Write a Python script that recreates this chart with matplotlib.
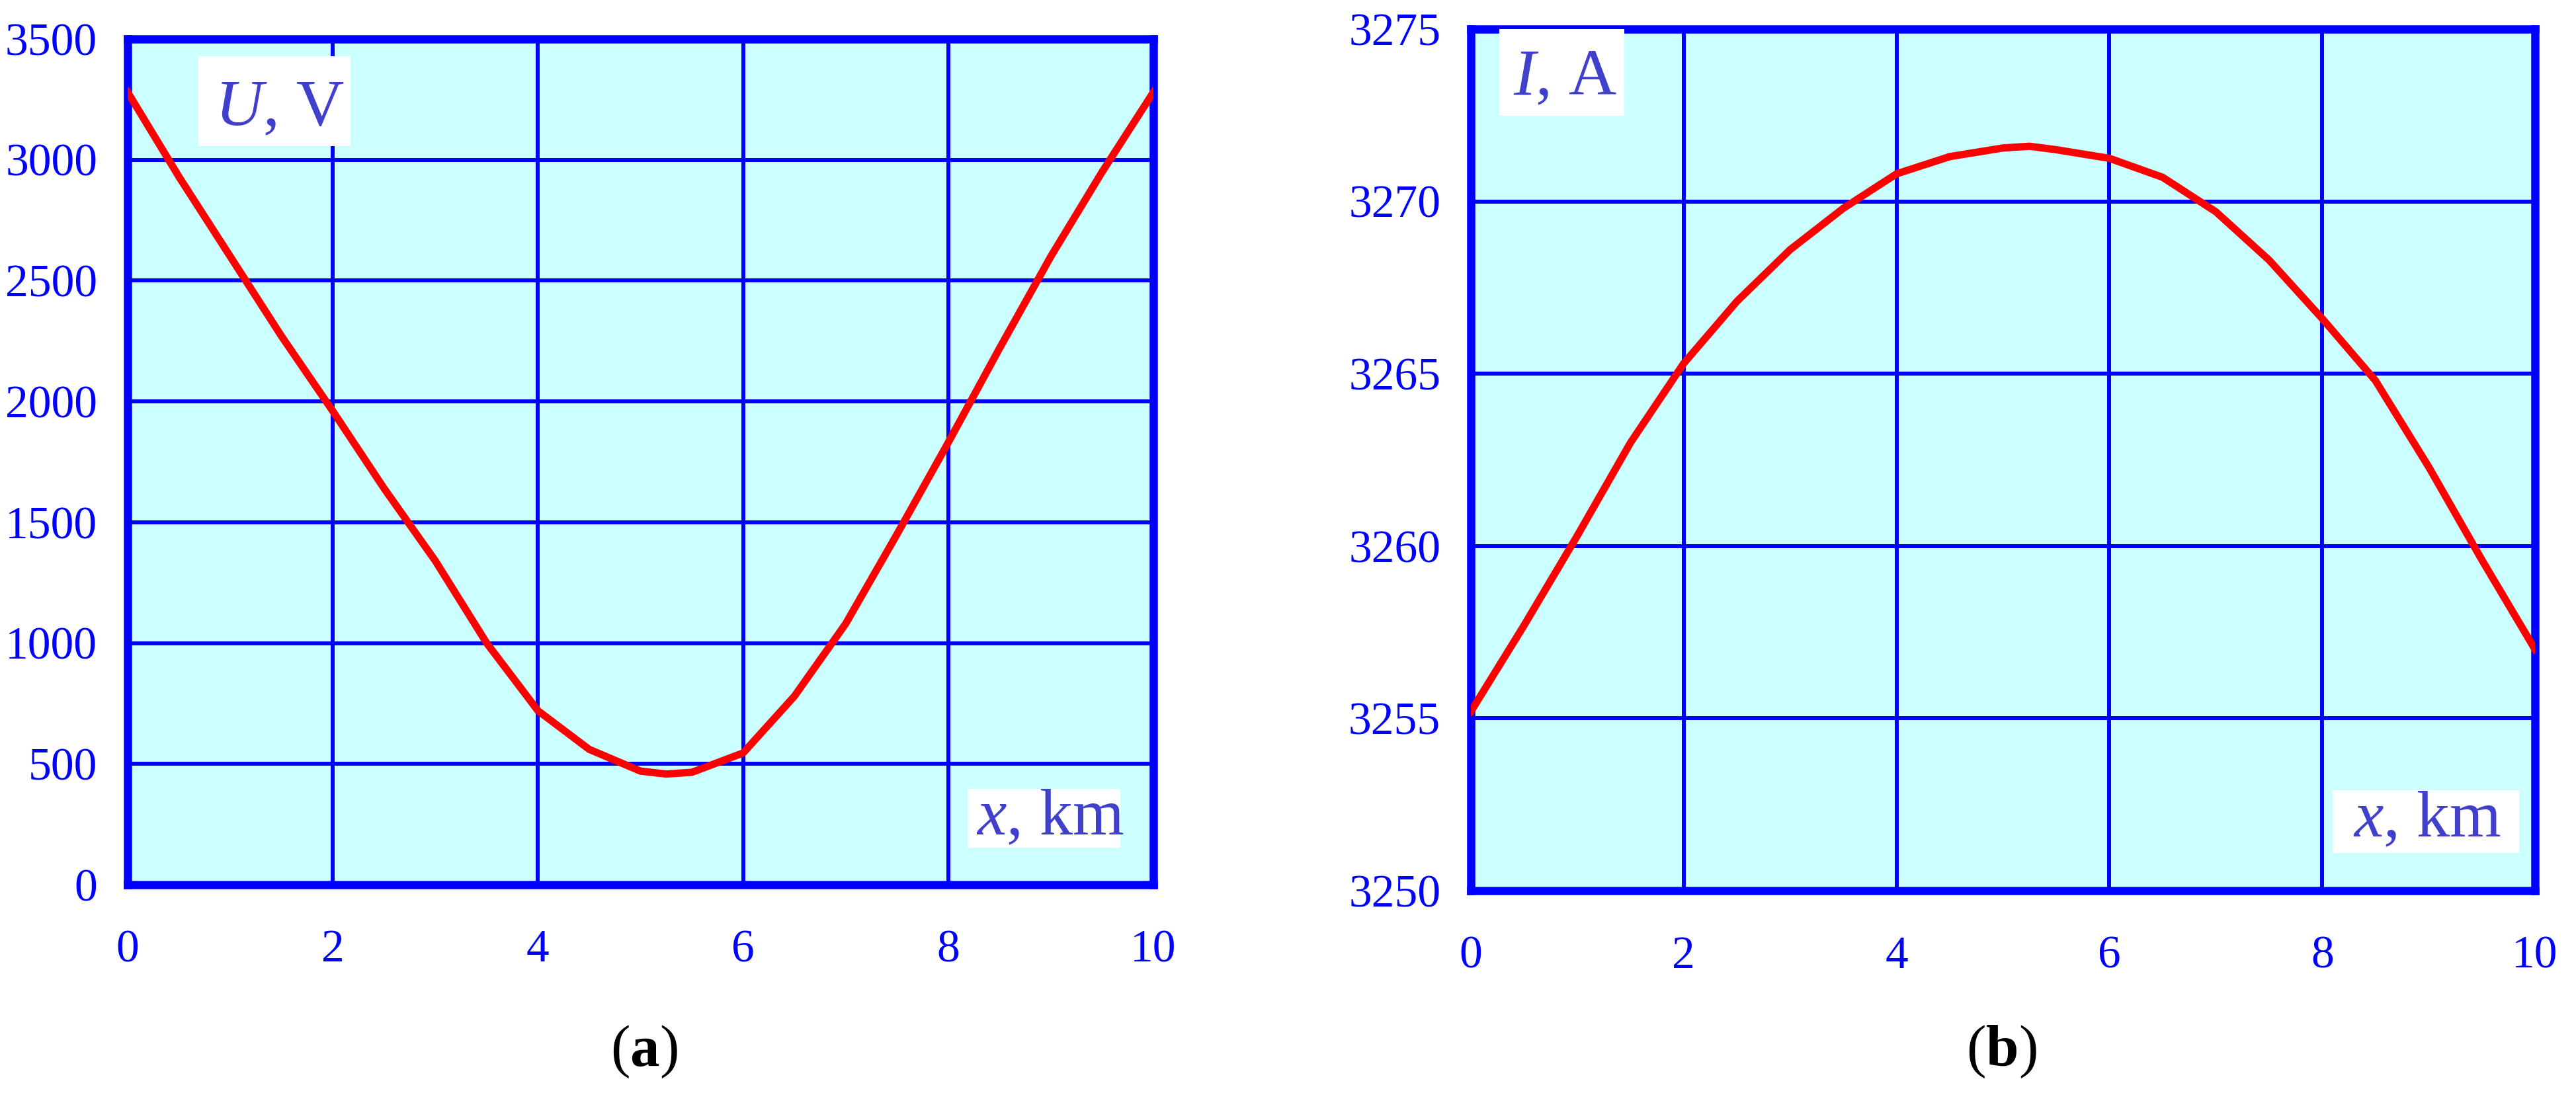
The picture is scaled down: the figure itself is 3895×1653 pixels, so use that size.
import matplotlib
matplotlib.use("Agg")
import matplotlib.pyplot as plt
from matplotlib.patches import Rectangle

# Data
x_km = [0, 0.5, 1, 1.5, 2, 2.5, 3, 3.5, 4, 4.5, 5, 5.25, 5.5, 6, 6.5, 7, 7.5, 8, 8.5, 9, 9.5, 10]
voltage = [3280, 2930, 2600, 2270, 1960, 1640, 1340, 1000, 720, 560, 470, 458, 465, 545, 780,
           1080, 1450, 1830, 2220, 2600, 2950, 3280]
current = [3255.2, 3257.7, 3260.3, 3263.0, 3265.3, 3267.1, 3268.6, 3269.8, 3270.8, 3271.3,
           3271.55, 3271.6, 3271.5, 3271.25, 3270.7, 3269.7, 3268.3, 3266.6, 3264.8, 3262.3,
           3259.6, 3257.0]

x_ticks = [0, 2, 4, 6, 8, 10]
u_ticks = [0, 500, 1000, 1500, 2000, 2500, 3000, 3500]
i_ticks = [3250, 3255, 3260, 3265, 3270, 3275]

# Styles
blue = "#0000ff"
label_blue = "#4040cc"
face = "#ccffff"

plt.rcParams["font.family"] = ["Liberation Serif", "DejaVu Serif"]
plt.rcParams["mathtext.fontset"] = "custom"
plt.rcParams["mathtext.rm"] = "Liberation Serif"
plt.rcParams["mathtext.it"] = "Liberation Serif:italic"
plt.rcParams["mathtext.bf"] = "Liberation Serif:bold"

fig = plt.figure(figsize=(38.95, 16.53), dpi=100)
ax1 = fig.add_axes([0.04955, 0.1906, 0.3982, 0.7737])
ax2 = fig.add_axes([0.5710, 0.1851, 0.4131, 0.7883])


def style_axes(ax, yticks):
    ax.set_facecolor(face)
    ax.set_xlim(0, 10)
    ax.set_ylim(yticks[0], yticks[-1])
    ax.set_xticks(x_ticks)
    ax.set_yticks(yticks)
    ax.set_axisbelow(True)
    ax.grid(True, color=blue, linewidth=4.3)
    for sp in ax.spines.values():
        sp.set_color(blue)
        sp.set_linewidth(9)
        sp.set_capstyle("projecting")
    ax.tick_params(axis="both", length=0, labelsize=50, labelcolor=blue)
    ax.tick_params(axis="y", pad=33)
    ax.tick_params(axis="x", pad=49)


def label_box(ax, x0, y0, w, h, tx, ty, text):
    ax.add_patch(Rectangle((x0, y0), w, h, transform=ax.transAxes,
                           facecolor="white", edgecolor="none", zorder=3, clip_on=False))
    ax.text(tx, ty, text, transform=ax.transAxes, fontsize=72, color=label_blue,
            ha="left", va="baseline", zorder=4)


# (a) voltage along the line
style_axes(ax1, u_ticks)
ax1.plot(x_km, voltage, color="#ff0000", linewidth=8, zorder=5)
label_box(ax1, 0.069, 0.873, 0.148, 0.107, 0.085, 0.898, r"$\mathit{U}$, V")
label_box(ax1, 0.819, 0.044, 0.149, 0.069, 0.827, 0.0594, r"$\mathit{x}$, km")

# (b) current along the line
style_axes(ax2, i_ticks)
ax2.plot(x_km, current, color="#ff0000", linewidth=8, zorder=5)
label_box(ax2, 0.027, 0.8995, 0.117, 0.1005, 0.0398, 0.924, r"$\mathit{I}$, A")
label_box(ax2, 0.81, 0.044, 0.175, 0.073, 0.829, 0.063, r"$\mathit{x}$, km")

# Panel captions
fig.text(0.25, 0.038, r"($\mathbf{a}$)", fontsize=64, ha="center", va="center")
fig.text(0.777, 0.038, r"($\mathbf{b}$)", fontsize=64, ha="center", va="center")

fig.savefig("out.png", dpi=100)
